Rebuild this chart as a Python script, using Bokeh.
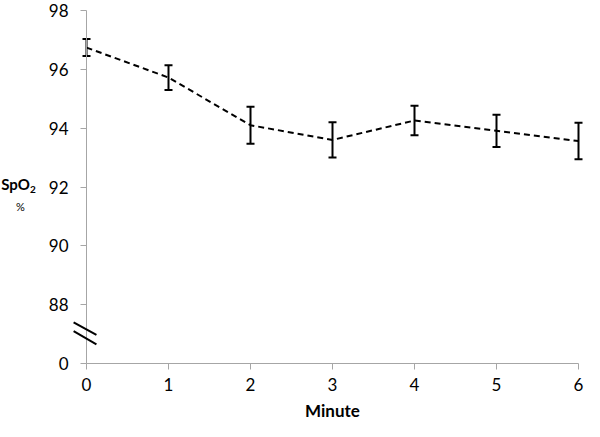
from bokeh.plotting import figure
from bokeh.models import (ColumnDataSource, Whisker, TeeHead, FixedTicker, Label,
                          Arrow, Range1d)
from bokeh.embed import file_html
from bokeh.resources import INLINE

# ---- data ----
minutes = [0, 1, 2, 3, 4, 5, 6]
spo2_mean = [96.74, 95.72, 94.10, 93.60, 94.26, 93.91, 93.56]
spo2_err = [0.29, 0.42, 0.63, 0.60, 0.50, 0.55, 0.62]

# broken y axis: the bottom tick (drawn at 86) is labelled "0"
y_tick_values = [86, 88, 90, 92, 94, 96, 98]
y_tick_labels = ["0", "88", "90", "92", "94", "96", "98"]
x_tick_values = minutes

FONT = "Lato"
AXIS_GREY = "#a6a6a6"

W, H = 584, 421
# pixel layout of the axes inside the canvas
X0_PX, X6_PX = 86, 578
Y98_PX, Y86_PX = 10, 363
sx = (X6_PX - X0_PX) / 6.0
sy = (Y86_PX - Y98_PX) / 12.0

src = ColumnDataSource(dict(
    x=minutes,
    y=spo2_mean,
    lo=[m - e for m, e in zip(spo2_mean, spo2_err)],
    hi=[m + e for m, e in zip(spo2_mean, spo2_err)],
))

p = figure(width=W, height=H, output_backend="svg", toolbar_location=None,
           x_range=Range1d(-X0_PX / sx, 6 + (W - X6_PX) / sx),
           y_range=Range1d(86 - (H - Y86_PX) / sy, 98 + Y98_PX / sy),
           min_border=0)
p.outline_line_color = None
p.grid.visible = False
p.background_fill_color = "white"
p.border_fill_color = "white"

p.line("x", "y", source=src, line_color="black", line_width=2, line_dash="6 4")

w = Whisker(source=src, base="x", lower="lo", upper="hi",
            line_color="black", line_width=2,
            upper_head=TeeHead(size=8, line_width=2, line_color="black"),
            lower_head=TeeHead(size=8, line_width=2, line_color="black"))
p.add_layout(w)

for ax in (p.xaxis[0], p.yaxis[0]):
    ax.axis_line_color = AXIS_GREY
    ax.axis_line_width = 1
    ax.major_tick_line_color = AXIS_GREY
    ax.major_tick_out = 6
    ax.major_tick_in = 0
    ax.minor_tick_line_color = None
    ax.major_label_text_font = FONT
    ax.major_label_text_font_size = "17px"
    ax.major_label_text_color = "black"

p.xaxis.fixed_location = 86
p.xaxis.bounds = (0, 6)
p.xaxis.ticker = FixedTicker(ticks=x_tick_values)
p.xaxis.major_label_standoff = 8
p.xaxis.axis_label = "Minute"
p.xaxis.axis_label_text_font = FONT
p.xaxis.axis_label_text_font_style = "bold"
p.xaxis.axis_label_text_font_size = "17px"
p.xaxis.axis_label_text_color = "black"
p.xaxis.axis_label_standoff = 6

p.yaxis.fixed_location = 0
p.yaxis.bounds = (86, 98)
p.yaxis.ticker = FixedTicker(ticks=y_tick_values)
p.yaxis.major_label_overrides = {v: t for v, t in zip(y_tick_values, y_tick_labels)}
p.yaxis.major_label_standoff = 12

# y-axis title "SpO2" with subscript and "%" below
p.add_layout(Label(x=-1.04, y=92.1, text="SpO", text_font=FONT, text_font_style="bold",
                   text_font_size="15px", text_color="black", text_baseline="middle"))
p.add_layout(Label(x=-0.69, y=91.93, text="2", text_font=FONT, text_font_style="bold",
                   text_font_size="10px", text_color="black", text_baseline="middle"))
p.add_layout(Label(x=-0.86, y=91.35, text="%", text_font=FONT,
                   text_font_size="11px", text_color="black", text_baseline="middle"))

# axis-break marks
p.add_layout(Arrow(end=None, x_start=-0.157, y_start=87.40, x_end=0.121, y_end=86.97,
                   line_color="black", line_width=2))
p.add_layout(Arrow(end=None, x_start=-0.157, y_start=87.10, x_end=0.121, y_end=86.65,
                   line_color="black", line_width=2))

open("out.html", "w").write(file_html(p, INLINE))
